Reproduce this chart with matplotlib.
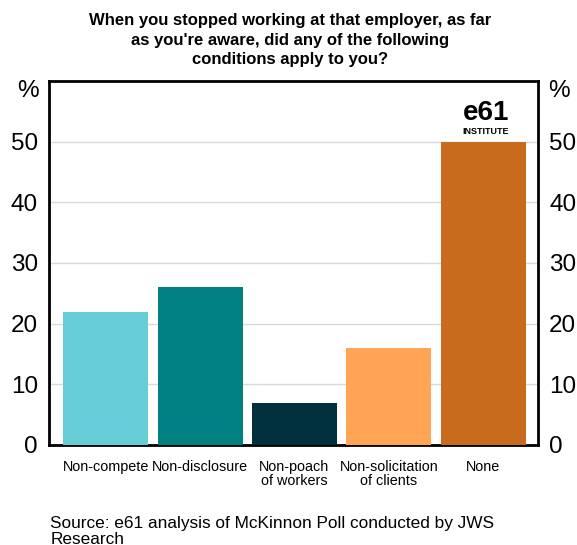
import matplotlib
matplotlib.use("Agg")
import matplotlib.pyplot as plt

categories = ["Non-compete", "Non-disclosure", "Non-poach\nof workers",
              "Non-solicitation\nof clients", "None"]
values = [22, 26, 7, 16, 50]
colors = ["#66CDD6", "#008080", "#00303C", "#FFA555", "#C96B1C"]
yticks = [0, 10, 20, 30, 40, 50]

plt.rcParams['font.family'] = ['Liberation Sans', 'DejaVu Sans']

fig = plt.figure(figsize=(5.77, 5.45), dpi=100)
ax = fig.add_axes([0.0849, 0.1835, 0.9324 - 0.0849, 0.8514 - 0.1835])

x = list(range(len(categories)))
ax.bar(x, values, width=0.9, color=colors, zorder=3)
ax.set_xlim(-0.6, 4.58)
ax.set_ylim(0, 60)
ax.set_yticks(yticks)
ax.set_yticklabels([str(t) for t in yticks], fontsize=17.5)
ax.set_xticks(x)
ax.set_xticklabels(categories, fontsize=10.4, linespacing=1.0)
ax.grid(axis='y', color='#d9d9d9', linewidth=1, zorder=0)
ax.tick_params(axis='x', direction='in', length=4, width=1, pad=11)
ax.tick_params(axis='y', length=0, pad=8, labelright=True, right=False)
for s in ax.spines.values():
    s.set_linewidth(2)
    s.set_color('black')

ax.text(-0.02, 0.972, "%", transform=ax.transAxes, ha='right', va='center', fontsize=17.5)
ax.text(1.02, 0.972, "%", transform=ax.transAxes, ha='left', va='center', fontsize=17.5)

fig.text(0.503, 0.976, "When you stopped working at that employer, as far\nas you're aware, did any of the following\nconditions apply to you?",
         ha='center', va='top', fontsize=12, fontweight='bold', linespacing=1.38)

# logo
ax.text(0.893, 0.913, "e61", transform=ax.transAxes, ha='center', va='center',
        fontsize=20, fontweight='bold')
ax.text(0.893, 0.862, "INSTITUTE", transform=ax.transAxes, ha='center', va='center',
        fontsize=6.5, fontweight='bold')

fig.text(0.087, 0.025, "Source: e61 analysis of McKinnon Poll conducted by JWS\nResearch",
         ha='left', va='center', fontsize=12.4, linespacing=1.1)

fig.savefig("out.png", dpi=100)
